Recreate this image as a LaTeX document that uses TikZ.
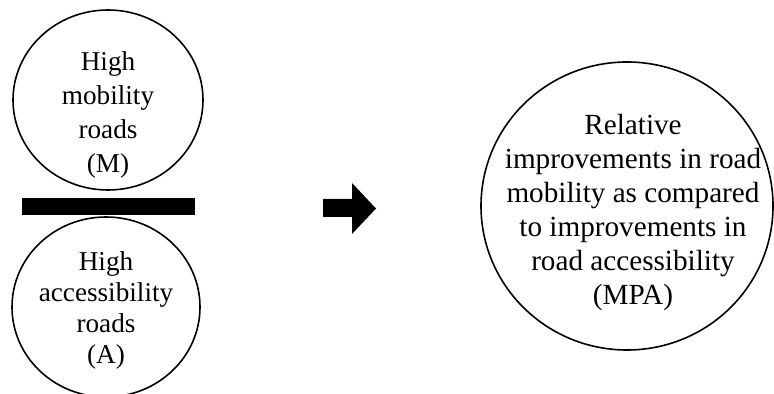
\documentclass[tikz,border=0pt]{standalone}
\usepackage{fontspec}
\setmainfont{Liberation Serif}
\begin{document}
\begin{tikzpicture}[x=0.5pt,y=-0.5pt]
\tikzset{ring/.style={line width=0.8pt},
  lbl/.style={align=center,inner sep=0pt,font=\fontsize{13.6}{17}\selectfont},
  biglbl/.style={align=center,inner sep=0pt,font=\fontsize{14.6}{17}\selectfont}}
\useasboundingbox (0,0) rectangle (774,394);
\draw[ring] (108,100) ellipse (95 and 90);
\node[lbl] (mob) at (108,114.5) {High\\mobility\\roads\\(M)};
\fill (22,198) rectangle (195,215);
\draw[ring] (106,307) ellipse (94 and 90);
\node[lbl,font=\fontsize{13.6}{15.5}\selectfont] (acc) at (106,310) {High\\accessibility\\roads\\(A)};
\fill (323,199) -- (352,199) -- (352,183) -- (376,208.5) -- (352,234) -- (352,217) -- (323,217) -- cycle;
\draw[ring] (627,206) ellipse (146 and 144);
\node[biglbl] (mpa) at (633,212) {Relative\\improvements in road\\mobility as compared\\to improvements in\\road accessibility\\(MPA)};
\end{tikzpicture}
\end{document}
